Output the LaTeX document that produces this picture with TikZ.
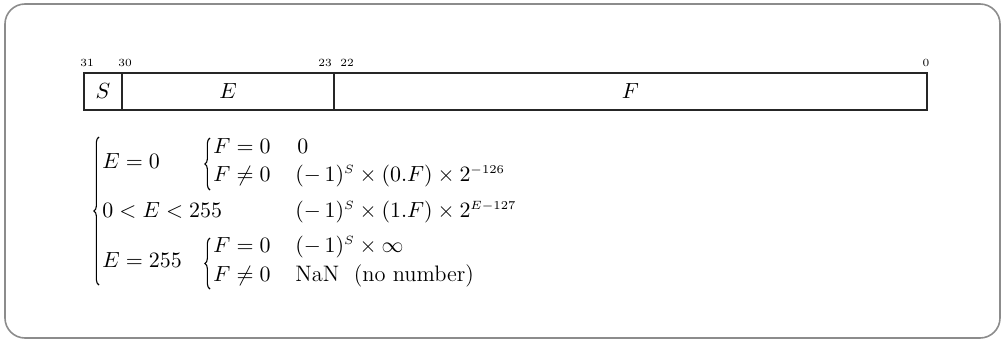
\documentclass[tikz,border=0pt]{standalone}
\usepackage{amsmath}
\usetikzlibrary{decorations.pathreplacing}
\newcommand{\ssup}[1]{^{\scriptscriptstyle #1}}
\begin{document}
\begin{tikzpicture}[x=0.5pt,y=-0.5pt,
  field/.style={draw=black!85, line width=0.9pt, minimum height=18.5pt, inner sep=0pt, outer sep=0pt, font=\fontsize{11.2}{13}\selectfont},
  bitlbl/.style={font=\fontsize{5.5}{6}\selectfont, inner sep=0pt},
  mtext/.style={anchor=base west, inner sep=0pt, font=\fontsize{11.2}{13}\selectfont},
  bracepath/.style={decorate, decoration={brace, amplitude=2.6pt}, line width=0.55pt}]
\useasboundingbox (0,0) rectangle (1005,342);
\draw[black!45, line width=0.8pt, rounded corners=10pt] (5,4) rectangle (1000,338);
% register
\node[field, minimum width=19pt] (S) at (103,91.5) {$S$};
\node[field, minimum width=106pt, anchor=west] (E) at (S.east) {$E$};
\node[field, minimum width=296.5pt, anchor=west] (F) at (E.east) {$F$};
% bit labels
\node[bitlbl] (b31) at (87,63) {31};
\node[bitlbl] (b30) at (125,63) {30};
\node[bitlbl] (b23) at (325,63) {23};
\node[bitlbl] (b22) at (347,63) {22};
\node[bitlbl] (b0) at (926,63) {0};
% braces
\draw[bracepath] (99,285) -- (99,137);
\draw[bracepath] (210,190) -- (210,138);
\draw[bracepath] (210,289) -- (210,238);
% conditions
\node[mtext] (c1) at (102,168) {$E=0$};
\node[mtext] (c2) at (102,217) {$0<E<255$};
\node[mtext] (c3) at (102,267) {$E=255$};
\node[mtext] (f1) at (213,153) {$F=0$};
\node[mtext] (f2) at (213,181) {$F\neq0$};
\node[mtext] (f3) at (213,252) {$F=0$};
\node[mtext] (f4) at (213,281) {$F\neq0$};
% values
\node[mtext] (v1) at (297,153) {$0$};
\node[mtext] (v2) at (295,181) {$(-\,1)\ssup{S}\times(0.F)\times2\ssup{-126}$};
\node[mtext] (v3) at (295,217) {$(-\,1)\ssup{S}\times(1.F)\times2\ssup{E-127}$};
\node[mtext] (v4) at (295,252) {$(-\,1)\ssup{S}\times\infty$};
\node[mtext] (v5) at (295,281) {NaN\ \ (no number)};
\end{tikzpicture}
\end{document}
